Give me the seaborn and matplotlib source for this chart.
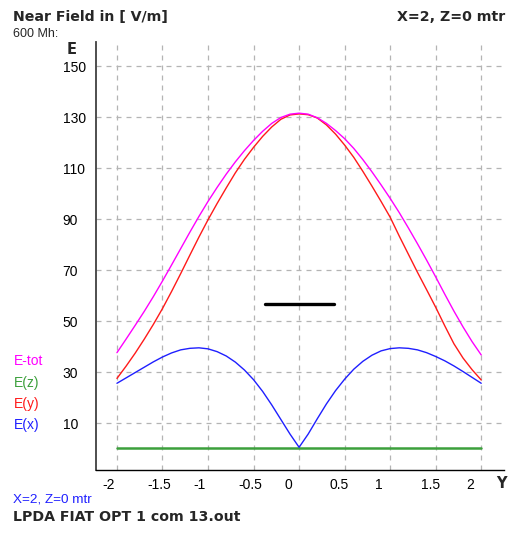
import numpy as np
import pandas as pd
import matplotlib
matplotlib.use("Agg")
import matplotlib.pyplot as plt
import matplotlib.transforms as mtransforms
import seaborn as sns

# position along Y (mtr)
y_pos = [-2.0, -1.9, -1.8, -1.7, -1.6, -1.5, -1.4, -1.3, -1.2, -1.1, -1.0,
         -0.9, -0.8, -0.7, -0.6, -0.5, -0.4, -0.3, -0.2, -0.1, 0.0,
         0.1, 0.2, 0.3, 0.4, 0.5, 0.6, 0.7, 0.8, 0.9, 1.0,
         1.1, 1.2, 1.3, 1.4, 1.5, 1.6, 1.7, 1.8, 1.9, 2.0]

e_tot = [37.7, 43.0, 48.4, 53.9, 59.7, 65.8, 72.1, 78.5, 84.9, 91.1, 97.0,
         102.5, 107.7, 112.5, 116.9, 120.9, 124.5, 127.6, 129.9, 131.2, 131.6,
         131.2, 129.8, 127.6, 124.8, 121.6, 117.8, 113.4, 108.6, 103.5, 98.2,
         92.6, 86.6, 80.4, 74.0, 67.4, 60.6, 54.0, 47.8, 42.0, 36.8]

e_y = [27.6, 32.4, 37.5, 43.0, 48.8, 55.0, 61.7, 68.7, 75.9, 83.0, 89.8,
       96.2, 102.3, 108.2, 113.5, 118.2, 122.5, 126.2, 129.2, 130.9, 131.3,
       131.0, 129.7, 127.0, 123.4, 119.1, 114.3, 108.8, 103.0, 97.0, 90.8,
       83.4, 76.3, 69.2, 62.4, 55.5, 48.2, 41.2, 35.6, 31.0, 27.0]

e_x = [25.7, 27.8, 29.9, 32.0, 34.1, 36.0, 37.6, 38.8, 39.4, 39.6, 39.2,
       38.1, 36.4, 34.0, 30.9, 27.1, 22.5, 17.2, 11.5, 5.8, 0.6,
       5.8, 11.8, 17.6, 22.8, 27.3, 31.2, 34.3, 36.7, 38.4, 39.3,
       39.6, 39.4, 38.8, 37.7, 36.2, 34.5, 32.5, 30.3, 28.0, 25.7]

ez_y = [-2.0, 2.0]
ez_vals = [0.5, 0.5]

antenna_y = [-0.37, 0.38]
antenna_e = [56.8, 56.8]

y_ticks = [10, 30, 50, 70, 90, 110, 130, 150]
x_ticks = [-2, -1.5, -1, -0.5, 0, 0.5, 1, 1.5, 2]
x_ticklabels = ['-2', '-1.5', '-1', '-0.5', '0', '0.5', '1', '1.5', '2']

df = pd.DataFrame({'Y': y_pos, 'E-tot': e_tot, 'E(y)': e_y, 'E(x)': e_x})
df_z = pd.DataFrame({'Y': ez_y, 'E(z)': ez_vals})
df_ant = pd.DataFrame({'Y': antenna_y, 'E': antenna_e})

sns.set_style("white")
plt.rcParams['font.family'] = ['Liberation Sans', 'DejaVu Sans']
bold_font = ['DejaVu Sans']

col_tot, col_z, col_y, col_x = '#ff00ff', '#3ca03c', '#ff1a1a', '#1f1fff'

fig = plt.figure(figsize=(5.13, 5.33), dpi=100)
ax = fig.add_axes([96 / 513, 1 - 470 / 533, (504 - 96) / 513, (470 - 42) / 533])

sns.lineplot(data=df_z, x='Y', y='E(z)', ax=ax, color=col_z, linewidth=1.8)
sns.lineplot(data=df, x='Y', y='E(x)', ax=ax, color=col_x, linewidth=1.0)
sns.lineplot(data=df, x='Y', y='E(y)', ax=ax, color=col_y, linewidth=1.0)
sns.lineplot(data=df, x='Y', y='E-tot', ax=ax, color=col_tot, linewidth=1.0)
sns.lineplot(data=df_ant, x='Y', y='E', ax=ax, color='black', linewidth=2.4)

ax.set_xlim(-2.23, 2.25)
ax.set_ylim(-8.3, 159.5)
ax.set_xlabel('')
ax.set_ylabel('')

ax.grid(True, color='#b4b4b4', linestyle=(0, (4, 4)), linewidth=0.9)
for s in ['top', 'right']:
    ax.spines[s].set_visible(False)
ax.spines['left'].set_color('#404040')
ax.spines['left'].set_linewidth(1.3)
ax.spines['bottom'].set_color('black')
ax.spines['bottom'].set_linewidth(1.0)

ax.tick_params(axis='both', length=0, labelsize=10, colors='black')
ax.tick_params(axis='y', pad=24)
ax.tick_params(axis='x', pad=6)
ax.set_yticks(y_ticks)
ax.set_xticks(x_ticks)
ax.set_xticklabels(x_ticklabels)
for lab in ax.get_yticklabels():
    lab.set_ha('left')
shift = mtransforms.ScaledTranslation(-15 / 100, 0, fig.dpi_scale_trans)
for lab in ax.get_xticklabels():
    lab.set_ha('left')
    lab.set_transform(lab.get_transform() + shift)

# axis names
fig.text(72 / 513, 1 - 50 / 533, 'E', fontsize=10.5, fontweight='bold', family=bold_font, ha='center', va='center')
fig.text(501 / 513, 1 - 484 / 533, 'Y', fontsize=10.5, fontweight='bold', family=bold_font, ha='center', va='center')

# header / footer
fig.text(13 / 513, 1 - 17 / 533, 'Near Field in [ V/m]', fontsize=10.2, fontweight='bold', family=bold_font, va='center')
fig.text(505 / 513, 1 - 17 / 533, 'X=2, Z=0 mtr', fontsize=10.2, fontweight='bold', family=bold_font, ha='right', va='center')
fig.text(13 / 513, 1 - 34 / 533, '600 Mh:', fontsize=9, va='center')
fig.text(13 / 513, 1 - 499 / 533, 'X=2, Z=0 mtr', fontsize=9.7, color='#2020ff', va='center')
fig.text(13 / 513, 1 - 517 / 533, 'LPDA FIAT OPT 1 com 13.out', fontsize=10.2, fontweight='bold', family=bold_font, va='center')

# colour key on the left
for i, (name, c) in enumerate([('E-tot', col_tot), ('E(z)', col_z), ('E(y)', col_y), ('E(x)', col_x)]):
    fig.text(14 / 513, 1 - (361 + i * 21.5) / 533, name, fontsize=10, color=c, va='center')

fig.savefig('out.png', dpi=100, facecolor='white')
